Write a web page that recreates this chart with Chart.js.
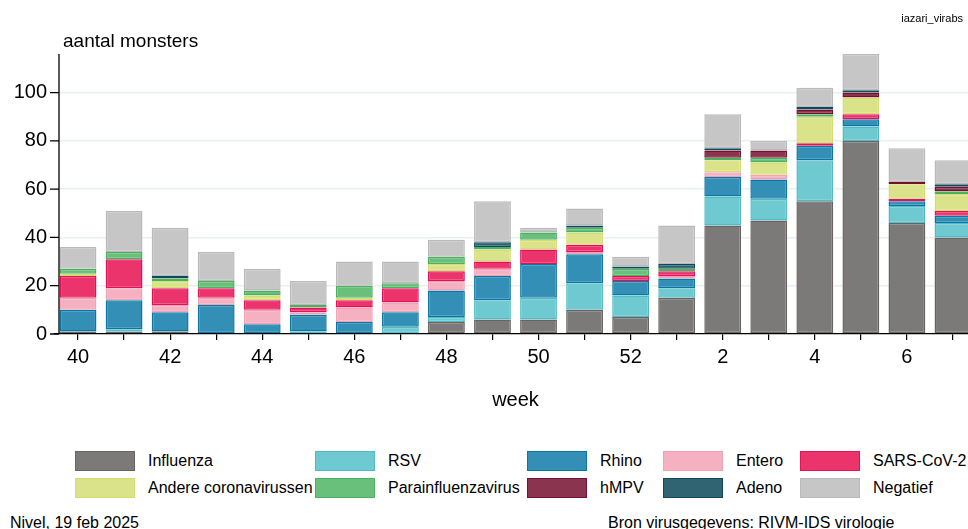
<!DOCTYPE html>
<html>
<head>
<meta charset="utf-8">
<script src="https://cdn.jsdelivr.net/npm/chart.js@4.4.1/dist/chart.umd.min.js"></script>
<style>
  html, body { margin:0; padding:0; background:#fff; }
  body { width:968px; height:529px; overflow:hidden; position:relative;
         font-family:"Liberation Sans", Arial, sans-serif; color:#000; }
  #wrap { position:absolute; left:0; top:0; width:976px; height:420px; }
  .txt { position:absolute; white-space:nowrap; line-height:1; }
  #legend { position:absolute; left:75px; top:451px; display:grid;
            grid-template-columns:240px 212px 136px 137px auto; row-gap:7px; }
  .item { display:flex; align-items:center; height:20px; }
  .sw { width:60px; height:20px; box-sizing:border-box; border:1.5px solid; margin-right:13px; }
  .lab { font-size:16px; }
</style>
</head>
<body>
<div id="wrap"><canvas id="chart"></canvas></div>
<div class="txt" style="left:63px;top:31px;font-size:19px;">aantal monsters</div>
<div class="txt" style="right:5px;top:13px;font-size:11px;">iazari_virabs</div>
<div id="legend"></div>
<div class="txt" style="left:10px;top:515px;font-size:16px;">Nivel, 19 feb 2025</div>
<div class="txt" style="left:608px;top:515px;font-size:16px;">Bron virusgegevens: RIVM-IDS virologie</div>

<script>
'use strict';

// ── DATA ─────────────────────────────────────────────────
const weeks = ['40','41','42','43','44','45','46','47','48','49','50','51','52',
               '1','2','3','4','5','6','7'];

const influenza = [1,1,1,0,0,0,0,0,5,6,6,10,7,15,45,47,55,80,46,40];
const rsv       = [0,1,0,0,0,1,0,3,2,8,9,11,9,4,12,9,17,6,7,6];
const rhino     = [9,12,8,12,4,7,5,6,11,10,14,12,6,4,8,8,6,3,2,3];
const entero    = [5,5,3,3,6,1,6,4,4,3,0,1,0,1,2,2,0,0,0,0];
const sarsCov2  = [9,12,7,4,4,2,3,6,4,3,6,3,2,2,0,0,1,2,1,2];
const andereCov = [1,0,3,0,2,0,1,0,3,5,4,5,0,0,5,5,11,7,6,7];
const para      = [2,3,1,3,2,1,5,2,3,1,3,2,3,1,1,2,1,0,0,1];
const hmpv      = [0,0,0,0,0,0,0,0,0,0,0,0,0,0,3,3,2,2,1,2];
const adeno     = [0,0,1,0,0,0,0,0,0,2,0,1,1,2,1,0,1,1,0,1];
const negatief  = [9,17,20,12,9,10,10,9,7,17,2,7,4,16,14,4,8,15,14,10];

const yTicks = [0,20,40,60,80,100];

// ── SERIES (bottom → top) ────────────────────────────────
const series = [
  {label:'Influenza',            data:influenza, fill:'#7c7a78', line:'#676462'},
  {label:'RSV',                  data:rsv,       fill:'#6fc9d1', line:'#4dbcc6'},
  {label:'Rhino',                data:rhino,     fill:'#338fb5', line:'#0a76a4'},
  {label:'Entero',               data:entero,    fill:'#f5b0c2', line:'#f2a2b7'},
  {label:'SARS-CoV-2',           data:sarsCov2,  fill:'#eb346c', line:'#e3105a'},
  {label:'Andere coronavirussen',data:andereCov, fill:'#dbe38a', line:'#d4de6e'},
  {label:'Parainfluenzavirus',   data:para,      fill:'#69c07b', line:'#4cb05f'},
  {label:'hMPV',                 data:hmpv,      fill:'#8b344f', line:'#75102f'},
  {label:'Adeno',                data:adeno,     fill:'#306473', line:'#0d4a5c'},
  {label:'Negatief',             data:negatief,  fill:'#c6c6c6', line:'#bababa'}
];

// legend order (row-wise, as in the figure)
const legendOrder = ['Influenza','RSV','Rhino','Entero','SARS-CoV-2',
                     'Andere coronavirussen','Parainfluenzavirus','hMPV','Adeno','Negatief'];

const FONT = "'Liberation Sans', Arial, sans-serif";

// ── Y AXIS LINE (drawn a few px inside the plot, as in the figure) ──
const yAxisLine = {
  id:'yAxisLine',
  afterDraw(chart){
    const {ctx, chartArea:{left,top,bottom}, scales:{y}} = chart;
    const x = left + 4;
    ctx.save();
    ctx.strokeStyle = '#000';
    ctx.lineWidth = 1.3;
    ctx.beginPath();
    ctx.moveTo(x, top);
    ctx.lineTo(x, bottom);
    yTicks.forEach(v => {
      const py = y.getPixelForValue(v);
      ctx.moveTo(x - 9, py);
      ctx.lineTo(x, py);
    });
    ctx.stroke();
    ctx.restore();
  }
};

new Chart(document.getElementById('chart').getContext('2d'), {
  type:'bar',
  data:{
    labels: weeks,
    datasets: series.map(s => ({
      label: s.label,
      data: s.data,
      backgroundColor: s.fill,
      borderColor: s.line,
      borderWidth: 1.5,
      borderSkipped: false,
      barPercentage: 0.8,
      categoryPercentage: 1
    }))
  },
  options:{
    responsive:true,
    maintainAspectRatio:false,
    animation:false,
    devicePixelRatio:1,
    layout:{ padding:{ top:54, left:0, right:0, bottom:0 } },
    plugins:{ legend:{ display:false }, tooltip:{ enabled:false } },
    scales:{
      x:{
        stacked:true,
        afterFit(scale){ scale.height = 86; },
        grid:{ display:true, drawOnChartArea:false, drawTicks:true, tickLength:6,
               offset:false, color:'#000', lineWidth:1.2 },
        border:{ display:true, color:'#000', width:1.3 },
        ticks:{
          autoSkip:false, maxRotation:0, padding:5, color:'#000',
          font:{ family:FONT, size:20 },
          callback:(v,i) => i % 2 === 0 ? weeks[i] : ''
        },
        title:{ display:true, text:'week', color:'#000',
                font:{ family:FONT, size:20 }, padding:{ top:4, bottom:8 } }
      },
      y:{
        stacked:true,
        min:0, max:116,
        afterFit(scale){ scale.width = 55; },
        afterBuildTicks(scale){ scale.ticks = yTicks.map(v => ({value:v})); },
        grid:{
          drawTicks:false,
          color: ctx => ctx.tick && ctx.tick.value === 0 ? 'rgba(0,0,0,0)' : '#e9efef',
          lineWidth:1.6
        },
        border:{ display:false },
        ticks:{ padding:8, color:'#000', font:{ family:FONT, size:20 } }
      }
    }
  },
  plugins:[ yAxisLine ]
});

// ── HTML LEGEND ──────────────────────────────────────────
const legendEl = document.getElementById('legend');
legendOrder.forEach(name => {
  const s = series.find(d => d.label === name);
  const item = document.createElement('div');
  item.className = 'item';
  const sw = document.createElement('div');
  sw.className = 'sw';
  sw.style.background = s.fill;
  sw.style.borderColor = s.line;
  const lab = document.createElement('span');
  lab.className = 'lab';
  lab.textContent = s.label;
  item.appendChild(sw);
  item.appendChild(lab);
  legendEl.appendChild(item);
});
</script>
</body>
</html>
